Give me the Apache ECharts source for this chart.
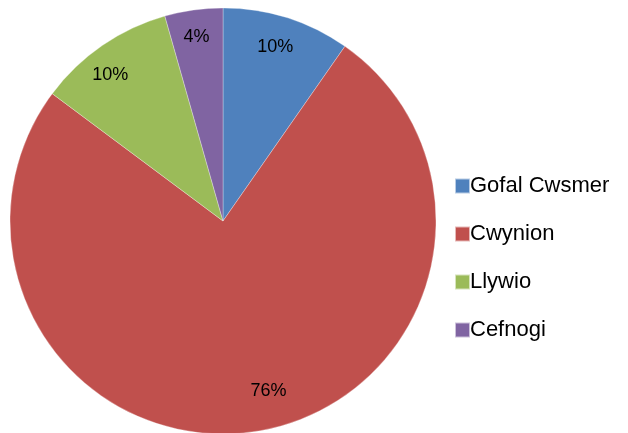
<!DOCTYPE html>
<html>
<head>
<meta charset="utf-8">
<script src="https://cdn.jsdelivr.net/npm/echarts@6/dist/echarts.min.js"></script>
<style>html,body{margin:0;padding:0;background:#fff}#c{width:628px;height:433px}</style>
</head>
<body>
<div id="c"></div>
<script>
var categories = ['Gofal Cwsmer', 'Cwynion', 'Llywio', 'Cefnogi'];
var values = [9.7, 75.5, 10.4, 4.4];
var colors = ['#4F81BD', '#C0504D', '#9BBB59', '#8064A2'];
var labelOffsets = [[-3, 2], [16, -12], [-8, 6], [-1, -1]];

var chart = echarts.init(document.getElementById('c'), null, {renderer: 'canvas'});
var data = categories.map(function (n, i) { return {name: n, value: values[i]}; });
var labelData = categories.map(function (n, i) {
  return {name: n, value: values[i], label: {offset: labelOffsets[i]}};
});
var FONT = 'Liberation Sans';
chart.setOption({
  animation: false,
  color: colors,
  legend: {
    orient: 'vertical',
    left: 449,
    top: 170,
    itemWidth: 15,
    itemHeight: 15,
    itemGap: 26,
    icon: 'rect',
    data: categories,
    textStyle: {fontFamily: FONT, fontSize: 22, color: '#000', lineHeight: 22, padding: [0, 0, 0, -5]}
  },
  series: [{
    type: 'pie',
    center: [223, 221],
    radius: [0, 213],
    startAngle: 90,
    clockwise: true,
    label: {show: false},
    labelLine: {show: false},
    itemStyle: {borderColor: 'rgba(255,255,255,0.6)', borderWidth: 0.5},
    emphasis: {disabled: true},
    data: data
  }, {
    type: 'pie',
    center: [223, 221],
    radius: [150, 213],
    startAngle: 90,
    clockwise: true,
    silent: true,
    avoidLabelOverlap: false,
    itemStyle: {color: 'rgba(0,0,0,0)'},
    label: {
      show: true,
      position: 'inside',
      fontFamily: FONT,
      fontSize: 18,
      color: '#000',
      formatter: function (p) { return Math.round(p.percent) + '%'; }
    },
    labelLine: {show: false},
    emphasis: {disabled: true},
    data: labelData
  }]
});
</script>
</body>
</html>
